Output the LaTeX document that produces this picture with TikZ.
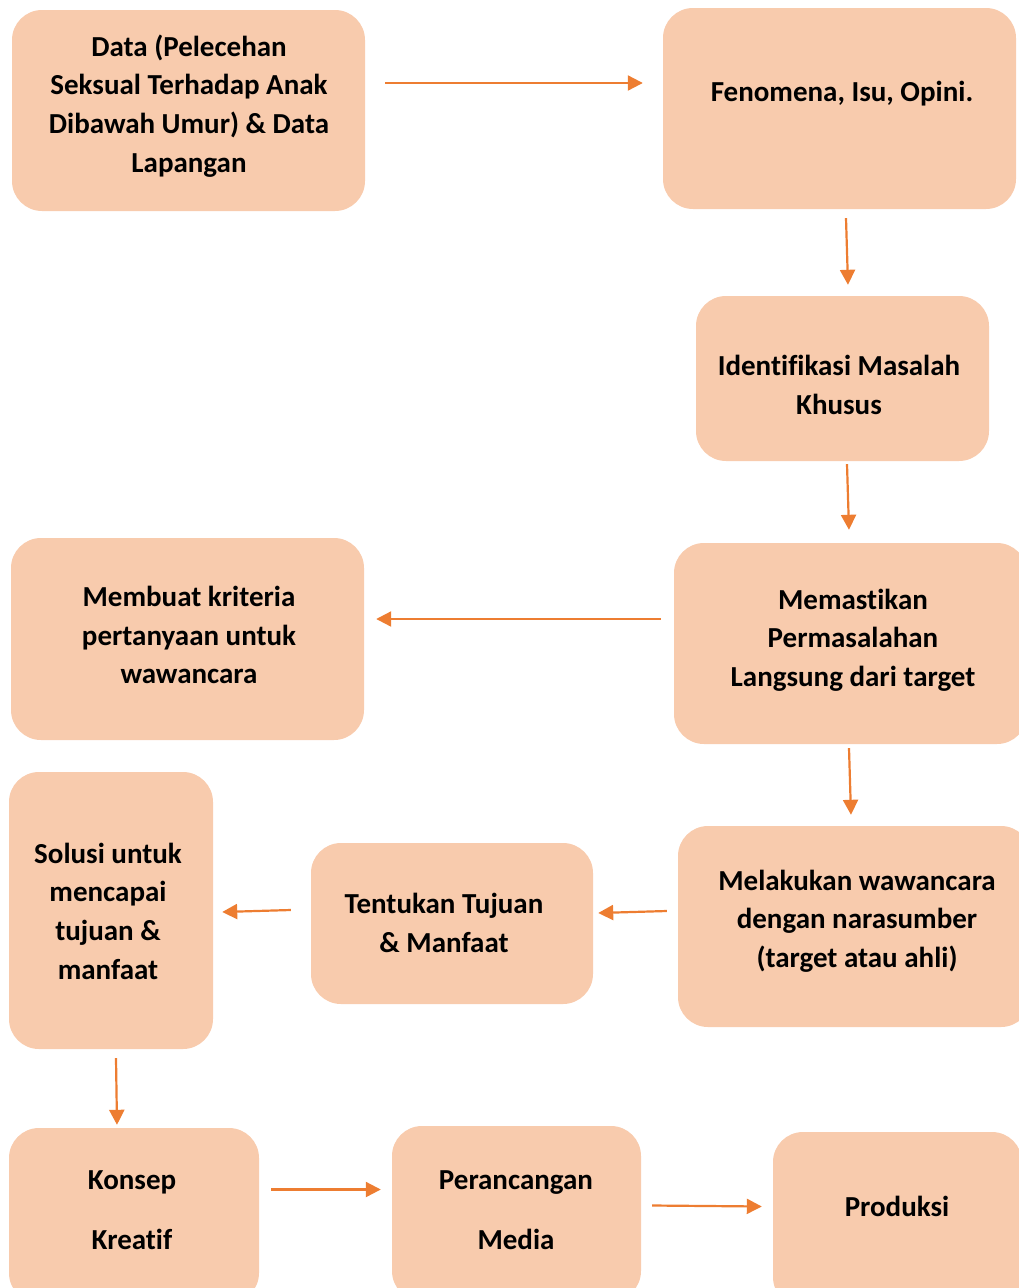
\documentclass[tikz,border=0pt]{standalone}
\usepackage{fontspec}
\setmainfont[Ligatures=NoCommon]{Carlito}
\usetikzlibrary{arrows.meta,calc}
\definecolor{boxfill}{HTML}{F8CBAD}
\definecolor{arrowc}{HTML}{ED7D31}
\tikzset{
  stepbox/.style={draw=none,fill=boxfill,rounded corners=30pt,inner sep=0pt},
  lbl/.style={align=center,font=\fontsize{29}{38.7}\selectfont\bfseries,inner sep=0pt},
  arr/.style={draw=arrowc,line width=2.2pt,-{Triangle[length=15pt,width=15pt]}}
}
\begin{document}
\begin{tikzpicture}[x=1pt,y=-1pt]
\useasboundingbox (0,0) rectangle (1019,1288);
\clip (0,0) rectangle (1019,1288);
\node[stepbox,minimum width=353pt,minimum height=201pt] (b1) at (188.5,110.5) {};
\node[stepbox,minimum width=353pt,minimum height=201pt] (b2) at (839.5,108.5) {};
\node[stepbox,minimum width=293pt,minimum height=165pt] (b3) at (842.5,378.5) {};
\node[stepbox,minimum width=353pt,minimum height=201pt] (b4) at (850.5,643.5) {};
\node[stepbox,minimum width=353pt,minimum height=202pt] (b5) at (187.5,639) {};
\node[stepbox,minimum width=353pt,minimum height=201pt] (b6) at (854.5,926.5) {};
\node[stepbox,minimum width=282pt,minimum height=161pt] (b7) at (452,923.5) {};
\node[stepbox,minimum width=204pt,minimum height=277pt] (b8) at (111,910.5) {};
\node[stepbox,minimum width=250pt,minimum height=175pt] (b9) at (134,1215.5) {};
\node[stepbox,minimum width=249pt,minimum height=175pt] (b10) at (516.5,1213.5) {};
\node[stepbox,minimum width=249pt,minimum height=175pt] (b11) at (897.5,1219.5) {};

\node[lbl] (t1) at (189,106) {Data (Pelecehan\\Seksual Terhadap Anak\\Dibawah Umur) \& Data\\Lapangan};
\node[lbl] (t2) at (842,94) {Fenomena, Isu, Opini.};
\node[lbl] (t3) at (839,385) {Identifikasi Masalah\\Khusus};
\node[lbl] (t4) at (853,640) {Memastikan\\Permasalahan\\Langsung dari target};
\node[lbl] (t5) at (189,635) {Membuat kriteria\\pertanyaan untuk\\wawancara};
\node[lbl] (t6) at (857,921) {Melakukan wawancara\\dengan narasumber\\(target atau ahli)};
\node[lbl] (t7) at (444,923) {Tentukan Tujuan\\\& Manfaat};
\node[lbl] (t8) at (108,911) {Solusi untuk\\mencapai\\tujuan \&\\manfaat};
\node[lbl,font=\fontsize{29}{60}\selectfont\bfseries] (t9) at (132,1210) {Konsep\\Kreatif};
\node[lbl,font=\fontsize{29}{60}\selectfont\bfseries] (t10) at (516,1210) {Perancangan\\Media};
\node[lbl] (t11) at (897,1206) {Produksi};

\draw[arr] ($(b1.east)+(20,-27.5)$) -- ($(b2.west)+(-20,-25.5)$);
\draw[arr] ($(b2.south)+(6.5,9)$) -- ($(b3.north)+(5.5,-11)$);
\draw[arr] ($(b3.south)+(4.5,3)$) -- ($(b4.north)+(-1.5,-13)$);
\draw[arr] ($(b4.west)+(-13,-24.5)$) -- ($(b5.east)+(12,-20)$);
\draw[arr] ($(b4.south)+(-1.5,4)$) -- ($(b6.north)+(-3.5,-11)$);
\draw[arr] ($(b6.west)+(-11,-15.5)$) -- ($(b7.east)+(5,-10.5)$);
\draw[arr] ($(b7.west)+(-20,-13.5)$) -- ($(b8.east)+(9,1.5)$);
\draw[arr] ($(b8.south)+(5,9)$) -- ($(b9.north)+(-17,-3)$);
\draw[arr] ($(b9.east)+(12,-26)$) -- ($(b10.west)+(-11,-24)$);
\draw[arr] ($(b10.east)+(11,-8)$) -- ($(b11.west)+(-11,-13)$);
\end{tikzpicture}
\end{document}
